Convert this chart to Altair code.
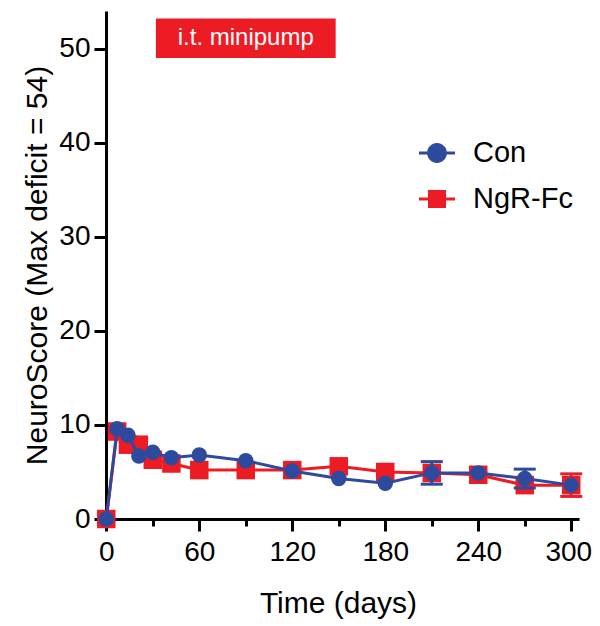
import altair as alt
import pandas as pd

# ---- data ----
days = [0, 7, 14, 21, 30, 42, 60, 90, 120, 150, 180, 210, 240, 270, 300]
con_mean = [0, 9.6, 8.9, 6.7, 7.1, 6.5, 6.8, 6.2, 5.1, 4.3, 3.8, 4.9, 4.9, 4.3, 3.6]
con_sem = [0, 0, 0, 0, 0, 0, 0, 0, 0, 0, 0, 1.2, 0, 1.0, 0]
ngr_mean = [0, 9.3, 7.9, 7.9, 6.3, 5.9, 5.2, 5.2, 5.2, 5.6, 5.0, 4.9, 4.7, 3.6, 3.6]
ngr_sem = [0, 0, 0, 0, 0, 0, 0, 0, 0, 0, 0, 0, 0, 0, 1.2]

series = ["Con", "NgR-Fc"]
colors = ["#2E4A9F", "#ED1C24"]
marker_shapes = ["circle", "square"]
legend_paths = [
    "M-1,-0.085H-0.54V0.085H-1Z M0.54,-0.085H1V0.085H0.54Z "
    "M-0.55,0A0.55,0.55 0 1,1 0.55,0A0.55,0.55 0 1,1 -0.55,0Z",
    "M-1,-0.085H-0.5V0.085H-1Z M0.5,-0.085H1V0.085H0.5Z "
    "M-0.5,-0.5H0.5V0.5H-0.5Z",
]

box_x = [32]
box_x2 = [148]
box_y = [49.0]
box_y2 = [53.2]
box_label = ["i.t. minipump"]
box_label_x = [90]
box_label_y = [51.1]

x_ticks = [0, 30, 60, 90, 120, 150, 180, 210, 240, 270, 300]
y_ticks = [0, 10, 20, 30, 40, 50]

FONT = "Liberation Sans"

rows = []
for name, means, sems in [("Con", con_mean, con_sem), ("NgR-Fc", ngr_mean, ngr_sem)]:
    for d, m, s in zip(days, means, sems):
        rows.append({"group": name, "day": d, "mean": m, "sem": s,
                     "lo": m - s, "hi": m + s})
df = pd.DataFrame(rows)

xscale = alt.Scale(domain=[-6, 305], nice=False, zero=False)
yscale = alt.Scale(domain=[0, 54], nice=False, zero=False)

axis_common = dict(
    grid=False, domainColor="black", domainWidth=3, tickColor="black",
    tickWidth=3, labelFont=FONT, labelFontSize=28, labelColor="black",
    titleFont=FONT, titleFontSize=30, titleFontWeight="normal",
    titleColor="black",
)

xaxis = alt.Axis(
    values=x_ticks,
    labelExpr="datum.value % 60 === 0 ? datum.label : ''",
    tickSize={"condition": {"test": "datum.value % 60 !== 0", "value": 7}, "value": 12},
    labelOffset={"condition": {"test": "datum.value === 300", "value": -3}, "value": 0},
    labelPadding=7, titlePadding=22, title="Time (days)", **axis_common,
)
yaxis = alt.Axis(
    values=y_ticks, tickSize=12, offset=-9, labelPadding=4, titlePadding=6,
    title="NeuroScore (Max deficit = 54)", **axis_common,
)

X = alt.X("day:Q", scale=xscale, axis=xaxis)
Y = alt.Y("mean:Q", scale=yscale, axis=yaxis)

base = alt.Chart(df)

# invisible layer that only carries the legend
legend_layer = base.mark_point(filled=True, opacity=0, size=1296).encode(
    x=X, y=Y,
    color=alt.Color("group:N", scale=alt.Scale(domain=series, range=colors),
                    legend=alt.Legend(title=None, orient="none", legendX=322, legendY=124)),
    shape=alt.Shape("group:N", scale=alt.Scale(domain=series, range=legend_paths),
                    legend=alt.Legend(title=None, orient="none", legendX=322, legendY=124)),
)

layers = [legend_layer]

box_df = pd.DataFrame({"x": box_x, "x2": box_x2, "y": box_y, "y2": box_y2})
box = alt.Chart(box_df).mark_rect(color="#ED1C24").encode(
    x=alt.X("x:Q", scale=xscale), x2="x2:Q",
    y=alt.Y("y:Q", scale=yscale), y2="y2:Q",
)
label_df = pd.DataFrame({"x": box_label_x, "y": box_label_y, "t": box_label})
box_text = alt.Chart(label_df).mark_text(
    color="white", font=FONT, fontSize=24, baseline="middle", align="center"
).encode(x=alt.X("x:Q", scale=xscale), y=alt.Y("y:Q", scale=yscale), text="t:N")
layers += [box, box_text]

# NgR-Fc drawn first (beneath), Con on top
for name, color, shp, size in [("NgR-Fc", colors[1], marker_shapes[1], 342),
                               ("Con", colors[0], marker_shapes[0], 240)]:
    sub = base.transform_filter(alt.datum.group == name)
    line = sub.mark_line(color=color, strokeWidth=3).encode(x=X, y=Y)
    errs = sub.transform_filter("datum.sem > 0")
    bar = errs.mark_rule(color=color, strokeWidth=3, opacity=1).encode(
        x=X, y=alt.Y("lo:Q", scale=yscale), y2="hi:Q")
    cap_lo = errs.mark_tick(color=color, orient="horizontal", size=22, thickness=3,
                            opacity=1).encode(x=X, y=alt.Y("lo:Q", scale=yscale))
    cap_hi = errs.mark_tick(color=color, orient="horizontal", size=22, thickness=3,
                            opacity=1).encode(x=X, y=alt.Y("hi:Q", scale=yscale))
    pts = sub.mark_point(filled=True, shape=shp, size=size, color=color, opacity=1).encode(x=X, y=Y)
    layers += [line, bar, cap_lo, cap_hi, pts]

chart = alt.layer(*layers).properties(
    width=482, height=508,
    autosize=alt.AutoSizeParams(type="none"),
    padding={"left": 89, "top": 3, "right": 13, "bottom": 100},
    background="white",
).configure_view(stroke=None).configure_legend(
    labelFont=FONT, labelFontSize=29, labelColor="black",
    symbolSize=1296, symbolOpacity=1, symbolStrokeWidth=0,
    rowPadding=13, labelOffset=18, padding=0,
)

chart.save("out.html", embed_options={"renderer": "svg", "actions": False})
